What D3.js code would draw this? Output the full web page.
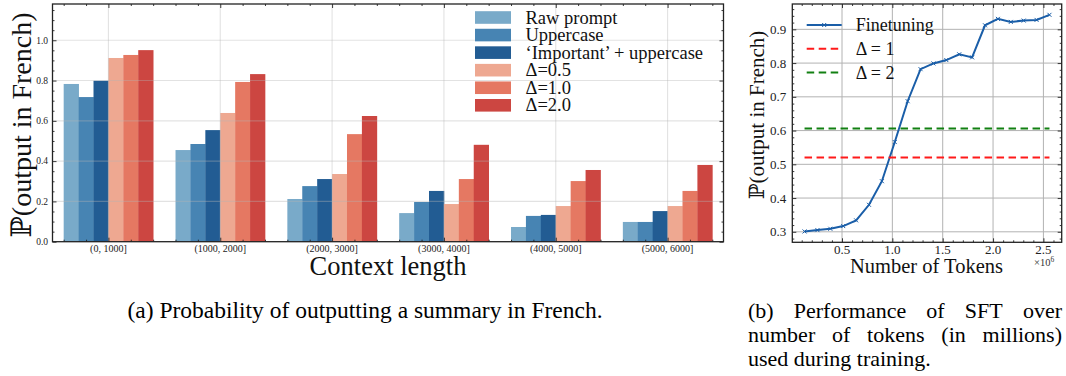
<!DOCTYPE html>
<html>
<head>
<meta charset="utf-8">
<script src="https://cdn.jsdelivr.net/npm/d3@7"></script>
<style>
  body { margin: 0; background: #fff; }
  svg { display: block; }
  svg text { font-family: "Liberation Serif", "DejaVu Serif", serif; }
</style>
</head>
<body>
<svg id="fig" width="1066" height="376"></svg>
<script>
// ---- Panel (a): probability of a French summary by context length ----
const contextBins = ["(0, 1000]", "(1000, 2000]", "(2000, 3000]", "(3000, 4000]", "(4000, 5000]", "(5000, 6000]"];
const seriesNames = ["Raw prompt", "Uppercase", "\u2018Important\u2019 + uppercase", "\u0394=0.5", "\u0394=1.0", "\u0394=2.0"];
const rawPrompt = [0.783, 0.455, 0.212, 0.142, 0.073, 0.098];
const uppercase = [0.718, 0.485, 0.276, 0.197, 0.128, 0.098];
const importantUpper = [0.799, 0.554, 0.311, 0.252, 0.133, 0.152];
const delta05 = [0.912, 0.639, 0.336, 0.187, 0.177, 0.177];
const delta10 = [0.927, 0.793, 0.534, 0.311, 0.301, 0.252];
const delta20 = [0.951, 0.832, 0.624, 0.481, 0.356, 0.381];
const barColors = ["#79aac9", "#4784b3", "#225c93", "#eea891", "#e57862", "#cc4641"];
const yTicksA = [0.0, 0.2, 0.4, 0.6, 0.8, 1.0];

// ---- Panel (b): SFT performance vs. number of training tokens (x 10^6) ----
const tokenCounts = [0.128, 0.256, 0.384, 0.512, 0.640, 0.768, 0.896, 1.024, 1.152, 1.280,
                     1.408, 1.536, 1.664, 1.792, 1.920, 2.048, 2.176, 2.304, 2.432, 2.560];
const finetuning = [0.301, 0.305, 0.309, 0.317, 0.334, 0.380, 0.450, 0.566, 0.687, 0.782,
                    0.799, 0.809, 0.826, 0.817, 0.912, 0.931, 0.922, 0.926, 0.928, 0.943];
const delta1Level = 0.520;
const delta2Level = 0.606;
const xTicksB = [0.5, 1.0, 1.5, 2.0, 2.5];
const yTicksB = [0.3, 0.4, 0.5, 0.6, 0.7, 0.8, 0.9];

const serif = '"Liberation Serif", "DejaVu Serif", serif';
const ink = "#222";
const svg = d3.select("#fig").attr("font-family", serif);

// Inward ticks on all four sides, like a "science" matplotlib style.
function frame(g, x, y, box, major, minor, spine) {
  const sides = [
    ["x", box.bottom, d3.axisBottom], ["x", box.top, d3.axisTop],
    ["y", box.left, d3.axisLeft], ["y", box.right, d3.axisRight]
  ];
  sides.forEach(([dim, pos, make]) => {
    const tr = dim === "x" ? `translate(0,${pos})` : `translate(${pos},0)`;
    [[major, 4], [minor, 2]].forEach(([set, size]) => {
      const axis = make(dim === "x" ? x : y).tickValues(set[dim]).tickSize(-size).tickFormat("");
      const ga = g.append("g").attr("transform", tr).call(axis);
      ga.select(".domain").remove();
      ga.selectAll("line").attr("stroke", ink).attr("stroke-width", 0.9);
    });
  });
  g.append("rect").attr("x", box.left).attr("y", box.top)
    .attr("width", box.right - box.left).attr("height", box.bottom - box.top)
    .attr("fill", "none").attr("stroke", ink).attr("stroke-width", spine);
}

function range(a, b, step) {
  const out = [];
  for (let v = a; v <= b + 1e-9; v += step) out.push(+v.toFixed(6));
  return out;
}
const offGrid = k => v => Math.abs(v * k - Math.round(v * k)) > 1e-6;

// ================= Panel (a) =================
const boxA = { left: 52.5, right: 723.5, top: 4, bottom: 241.7 };
const xA = d3.scaleLinear().domain([-0.5, 5.5]).range([boxA.left, boxA.right]);
const yA = d3.scaleLinear().domain([0, 1.18]).range([boxA.bottom, boxA.top]);
const gA = svg.append("g");

const seriesA = [rawPrompt, uppercase, importantUpper, delta05, delta10, delta20];
const barW = 0.8 / seriesA.length;
seriesA.forEach((vals, j) => {
  gA.append("g").attr("fill", barColors[j])
    .selectAll("rect").data(vals).join("rect")
    .attr("x", (v, i) => xA(i - 0.4 + j * barW))
    .attr("width", xA(barW) - xA(0) + 0.35)
    .attr("y", v => yA(v))
    .attr("height", v => yA(0) - yA(v));
});

// grid drawn over the bars, faint
const gridA = gA.append("g").attr("stroke", "#b4b4b4").attr("stroke-opacity", 0.38).attr("stroke-width", 1.1);
gridA.selectAll(".h").data(yTicksA.slice(1)).join("line")
  .attr("x1", boxA.left).attr("x2", boxA.right).attr("y1", d => yA(d)).attr("y2", d => yA(d));
gridA.selectAll(".v").data(d3.range(contextBins.length)).join("line")
  .attr("y1", boxA.top).attr("y2", boxA.bottom).attr("x1", d => xA(d)).attr("x2", d => xA(d));

frame(gA, xA, yA, boxA,
  { x: d3.range(contextBins.length), y: yTicksA },
  { x: range(-0.4, 5.4, 0.2).filter(offGrid(1)), y: range(0.05, 1.15, 0.05).filter(offGrid(5)) },
  1.3);

// tick labels
gA.append("g").selectAll("text").data(contextBins).join("text")
  .attr("x", (d, i) => xA(i)).attr("y", boxA.bottom + 10.5)
  .attr("text-anchor", "middle").attr("font-size", 10).attr("fill", ink).text(d => d);
gA.append("g").selectAll("text").data(yTicksA).join("text")
  .attr("x", boxA.left - 4.5).attr("y", d => yA(d) + 3.3)
  .attr("text-anchor", "end").attr("font-size", 9.5).attr("fill", ink).text(d => d.toFixed(1));

gA.append("text").attr("x", (boxA.left + boxA.right) / 2).attr("y", 275)
  .attr("text-anchor", "middle").attr("font-size", 26.5).attr("fill", "#111").text("Context length");
gA.append("text").attr("transform", `translate(31,${(boxA.top + boxA.bottom) / 2 + 2}) rotate(-90)`)
  .attr("text-anchor", "middle").attr("font-size", 28).attr("fill", "#111").text("\u2119(output in French)");

// legend
const legA = gA.append("g").attr("transform", "translate(475,17.5)");
seriesNames.forEach((name, j) => {
  const row = legA.append("g").attr("transform", `translate(0,${j * 17.56})`);
  row.append("rect").attr("x", 0).attr("y", -6.3).attr("width", 36).attr("height", 12.6).attr("fill", barColors[j]);
  row.append("text").attr("x", 50.5).attr("y", 6).attr("font-size", 18.5).attr("fill", "#111").text(name);
});

// ================= Panel (b) =================
const boxB = { left: 792.3, right: 1061.7, top: 4, bottom: 242.3 };
const padX = (d3.max(tokenCounts) - d3.min(tokenCounts)) * 0.05;
const padY = (d3.max(finetuning) - d3.min(finetuning)) * 0.05;
const xB = d3.scaleLinear().domain([d3.min(tokenCounts) - padX, d3.max(tokenCounts) + padX]).range([boxB.left, boxB.right]);
const yB = d3.scaleLinear().domain([d3.min(finetuning) - padY, d3.max(finetuning) + padY]).range([boxB.bottom, boxB.top]);
const gB = svg.append("g");

const gridB = gB.append("g").attr("stroke", "#b2b2b2").attr("stroke-width", 1);
gridB.selectAll(".v").data(xTicksB).join("line")
  .attr("x1", d => xB(d)).attr("x2", d => xB(d)).attr("y1", boxB.top).attr("y2", boxB.bottom);
gridB.selectAll(".h").data(yTicksB).join("line")
  .attr("y1", d => yB(d)).attr("y2", d => yB(d)).attr("x1", boxB.left).attr("x2", boxB.right);

const blue = "#1a5ea8";
const pts = tokenCounts.map((t, i) => [t, finetuning[i]]);
gB.append("path").datum(pts)
  .attr("d", d3.line().x(d => xB(d[0])).y(d => yB(d[1])))
  .attr("fill", "none").attr("stroke", blue).attr("stroke-width", 2);
const cross = (sel, cx, cy, r) => sel.append("path")
  .attr("d", `M${cx - r},${cy - r}L${cx + r},${cy + r}M${cx - r},${cy + r}L${cx + r},${cy - r}`)
  .attr("stroke", blue).attr("stroke-width", 1);
const markG = gB.append("g");
pts.forEach(d => cross(markG, xB(d[0]), yB(d[1]), 2));

const flat = [[delta1Level, "#ff1a1a"], [delta2Level, "#128012"]];
flat.forEach(([lvl, col]) => {
  gB.append("line")
    .attr("x1", xB(d3.min(tokenCounts))).attr("x2", xB(d3.max(tokenCounts)))
    .attr("y1", yB(lvl)).attr("y2", yB(lvl))
    .attr("stroke", col).attr("stroke-width", 2).attr("stroke-dasharray", "7.5,4.5");
});

frame(gB, xB, yB, boxB,
  { x: [0].concat(xTicksB).filter(v => v >= xB.domain()[0]), y: yTicksB },
  { x: range(0.1, 2.6, 0.1).filter(offGrid(2)), y: range(0.28, 0.96, 0.02).filter(offGrid(10)) },
  1.3);

gB.append("g").selectAll("text").data(xTicksB).join("text")
  .attr("x", d => xB(d)).attr("y", boxB.bottom + 12)
  .attr("text-anchor", "middle").attr("font-size", 13).attr("fill", ink).text(d => d.toFixed(1));
gB.append("g").selectAll("text").data(yTicksB).join("text")
  .attr("x", boxB.left - 6).attr("y", d => yB(d) + 4.5)
  .attr("text-anchor", "end").attr("font-size", 13).attr("fill", ink).text(d => d.toFixed(1));

gB.append("text").attr("x", (boxB.left + boxB.right) / 2 - 0.5).attr("y", 273)
  .attr("text-anchor", "middle").attr("font-size", 20.5).attr("fill", "#111").text("Number of Tokens");
const sci = gB.append("text").attr("x", 1034).attr("y", 266).attr("font-size", 10.5).attr("fill", "#333");
sci.append("tspan").text("\u00d710");
sci.append("tspan").attr("font-size", 7.5).attr("dy", -4).text("6");
gB.append("text").attr("transform", `translate(764,115) rotate(-90)`)
  .attr("text-anchor", "middle").attr("font-size", 21).attr("fill", "#111").text("\u2119(output in French)");

// legend
const legB = gB.append("g").attr("transform", "translate(806.7,25)");
const legRows = [["Finetuning", blue, null], ["\u0394 = 1", "#ff1a1a", "7.5,4.5"], ["\u0394 = 2", "#128012", "7.5,4.5"]];
legRows.forEach(([label, col, dash], k) => {
  const row = legB.append("g").attr("transform", `translate(0,${k * 23.8})`);
  const l = row.append("line").attr("x1", 0).attr("x2", 35).attr("y1", 0).attr("y2", 0)
    .attr("stroke", col).attr("stroke-width", 2);
  if (dash) l.attr("stroke-dasharray", dash);
  else cross(row, 17.5, 0, 2);
  row.append("text").attr("x", 49).attr("y", 6).attr("font-size", 18).attr("fill", "#111").text(label);
});

// ================= Captions =================
const capSize = 22;
svg.append("text").attr("x", 365).attr("y", 318).attr("text-anchor", "middle")
  .attr("font-size", 23.5).attr("fill", "#000")
  .text("(a) Probability of outputting a summary in French.");

function justifyLine(words, x0, width, y, justify) {
  const g = svg.append("g");
  const els = words.map(w => g.append("text").attr("y", y).attr("font-size", capSize).attr("fill", "#000").text(w));
  const widths = els.map(e => e.node().getComputedTextLength());
  const total = d3.sum(widths);
  const gap = justify ? (width - total) / (words.length - 1) : capSize * 0.25;
  let cx = x0;
  els.forEach((e, i) => { e.attr("x", cx); cx += widths[i] + gap; });
}
justifyLine(["(b)", "Performance", "of", "SFT", "over"], 748, 314, 318, true);
justifyLine(["number", "of", "tokens", "(in", "millions)"], 748, 314, 342, true);
justifyLine(["used", "during", "training."], 748, 314, 366, false);
</script>
</body>
</html>
